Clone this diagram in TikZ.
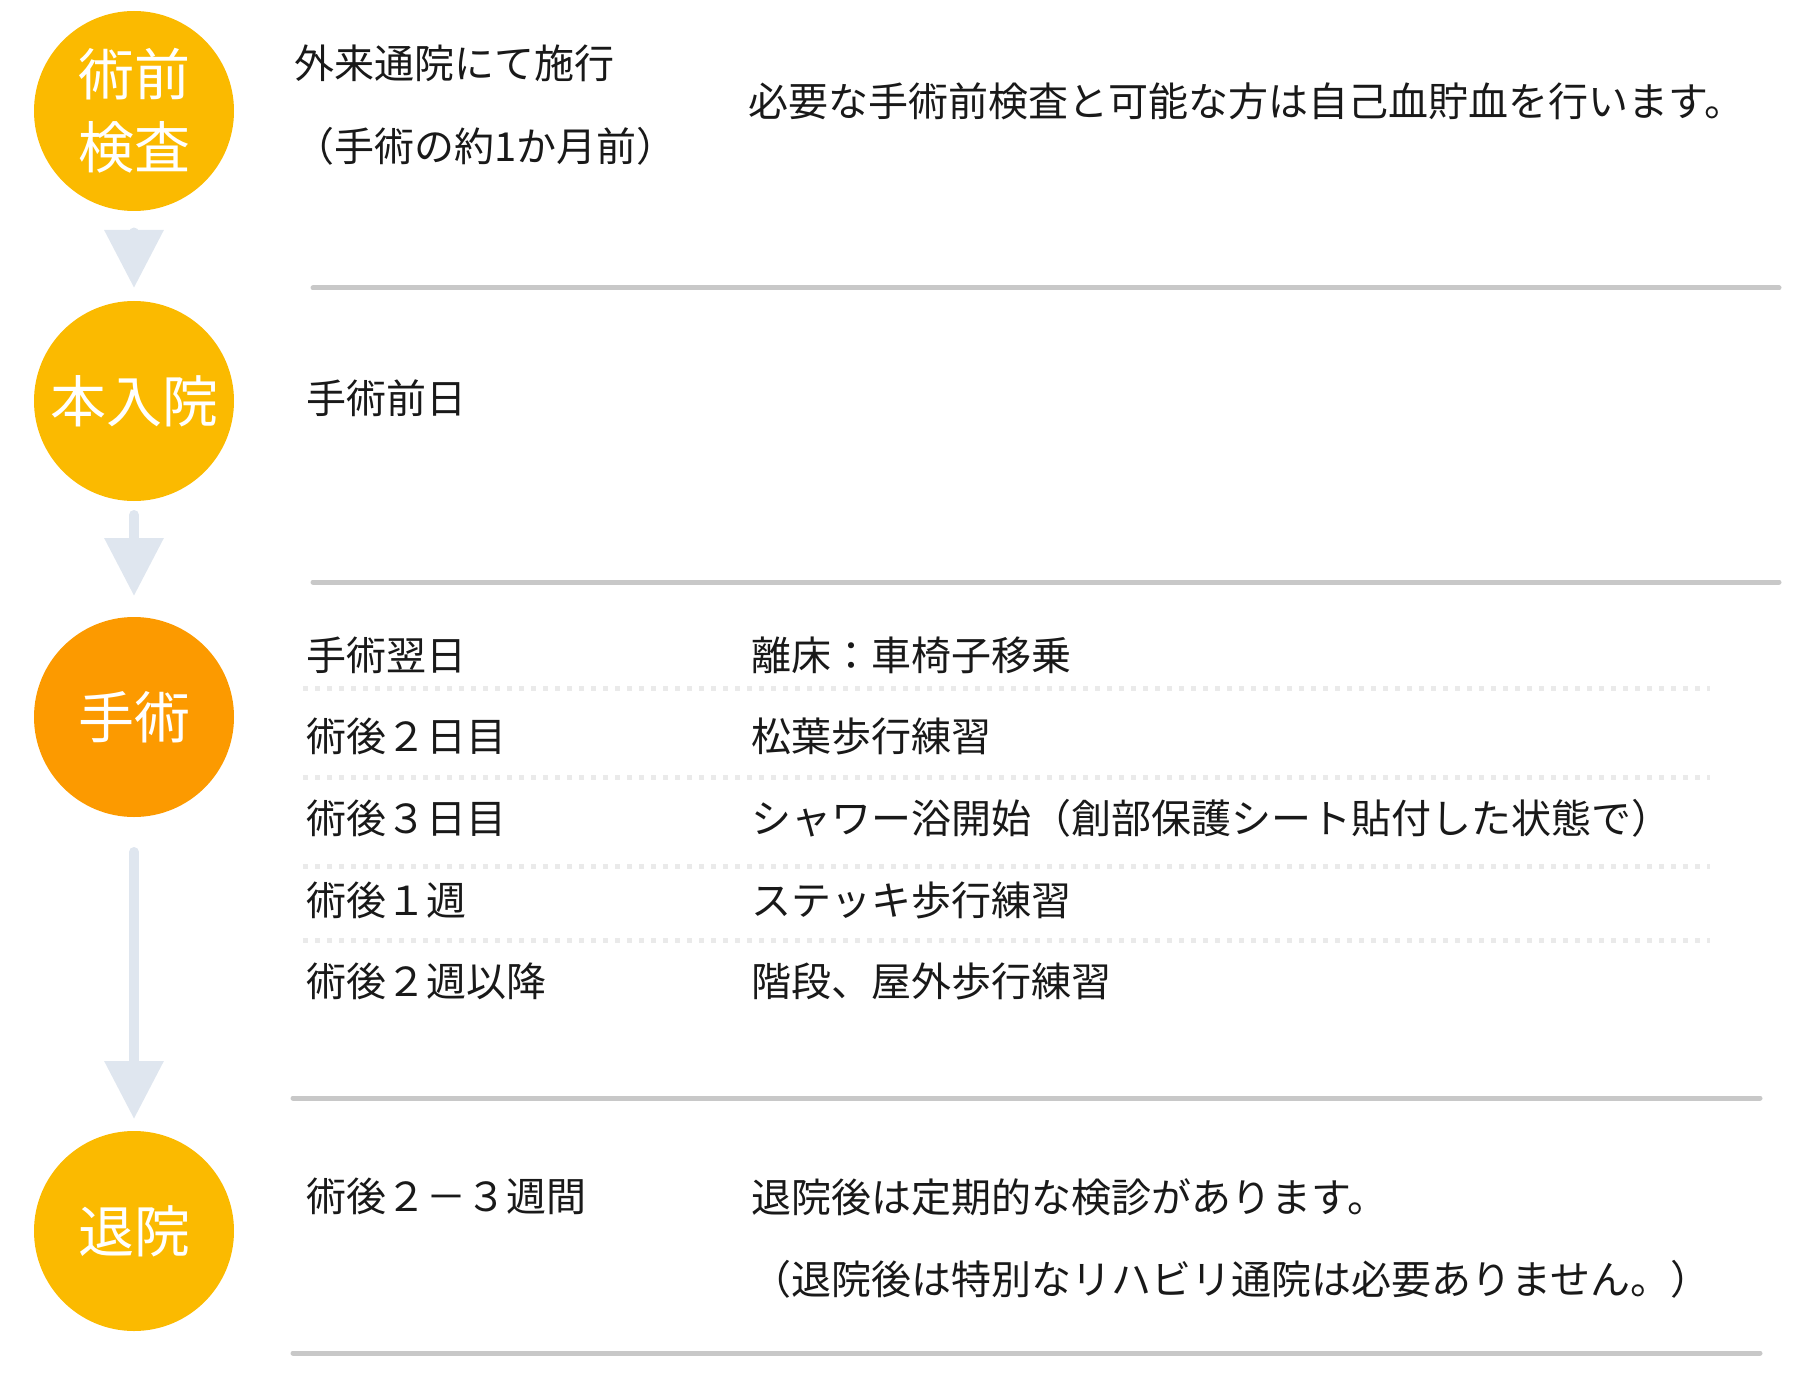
\documentclass[tikz,border=0pt]{standalone}
\usepackage{fontspec}
\setmainfont{Noto Sans CJK JP}
\usetikzlibrary{arrows.meta}
\definecolor{stageyellow}{HTML}{FBBA00}
\definecolor{stageorange}{HTML}{FC9A00}
\definecolor{flowgray}{HTML}{DFE6EF}
\definecolor{rulegray}{HTML}{C8C8C8}
\definecolor{dotgray}{HTML}{EAEAEA}
\tikzset{
  stage/.style={circle, minimum size=100pt, inner sep=0pt, outer sep=0pt,
    text=white, font=\fontsize{28}{36.5}\selectfont, align=center},
  entry/.style={anchor=west, inner sep=0pt, text=black!90,
    font=\fontsize{20}{24}\selectfont},
  flow/.style={draw=flowgray, line width=5pt, line cap=round,
    -{Triangle[width=28.5pt,length=29pt]}},
  rule/.style={draw=rulegray, line width=2.5pt, line cap=round},
  rowline/.style={draw=dotgray, line width=2.5pt, dash pattern=on 2.5pt off 3.5pt},
}
\begin{document}
\begin{tikzpicture}[x=0.5pt, y=-0.5pt]
  \useasboundingbox (0,0) rectangle (1820,1380);
  % stages
  \node[stage, fill=stageyellow] (kensa) at (134,111) {術前\\検査};
  \node[stage, fill=stageyellow] (nyuin) at (134,401) {本入院};
  \node[stage, fill=stageorange] (shujutsu) at (134,717) {手術};
  \node[stage, fill=stageyellow] (taiin) at (134,1231) {退院};
  % arrows
  \draw[flow, shorten <=11pt, shorten >=6.5pt] (kensa) -- (nyuin);
  \draw[flow, shorten <=7pt, shorten >=10.5pt] (nyuin) -- (shujutsu);
  \draw[flow, shorten <=17.5pt, shorten >=6pt] (shujutsu) -- (taiin);
  % separators
  \draw[rule] (313,288) -- (1779,288);
  \draw[rule] (313,582) -- (1779,582);
  \draw[rule] (293,1098) -- (1760,1098);
  \draw[rule] (293,1353) -- (1760,1353);
  \foreach \y in {688,777,866,940}
    \draw[rowline] (303,\y) -- (1710,\y);
  % pre-op check
  \node[entry] (visit) at (294,63) {外来通院にて施行};
  \node[entry] (visitwhen) at (294,146) {（手術の約1か月前）};
  \node[entry] (visitnote) at (748,101) {必要な手術前検査と可能な方は自己血貯血を行います。};
  % admission
  \node[entry] (eve) at (306,398) {手術前日};
  % surgery and rehab
  \foreach \y/\when/\what [count=\i] in {655/手術翌日/離床：車椅子移乗,
      736/術後２日目/松葉歩行練習,
      818/術後３日目/シャワー浴開始（創部保護シート貼付した状態で）,
      900/術後１週/ステッキ歩行練習,
      981/術後２週以降/階段、屋外歩行練習} {
    \node[entry] (when\i) at (306,\y) {\when};
    \node[entry] (what\i) at (751,\y) {\what};
  }
  % discharge
  \node[entry] (after) at (306,1196) {術後２－３週間};
  \node[entry] (afternote) at (751,1197) {退院後は定期的な検診があります。};
  \node[entry] (afterrehab) at (751,1279) {（退院後は特別なリハビリ通院は必要ありません。）};
\end{tikzpicture}
\end{document}
